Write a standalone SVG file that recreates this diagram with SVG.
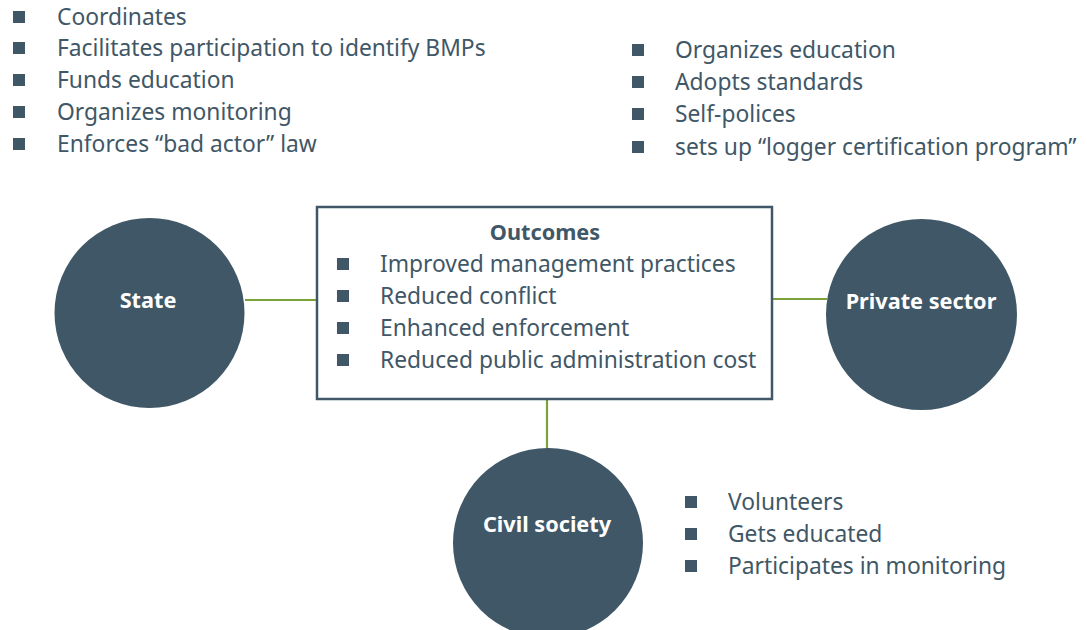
<svg xmlns="http://www.w3.org/2000/svg" width="1087" height="630" viewBox="0 0 1087 630">
  <style>
    .item { font-family: "Noto Sans", "Liberation Sans", sans-serif; font-size: 22.8px; fill: #3f5766; }
    .head { font-family: "Noto Sans", "Liberation Sans", sans-serif; font-size: 21.7px; font-weight: bold; fill: #3f5766; text-anchor: middle; }
    .label { font-family: "Noto Sans", "Liberation Sans", sans-serif; font-size: 21.7px; font-weight: bold; fill: #ffffff; text-anchor: middle; }
    .node { fill: #3f5766; }
    .bullet { fill: #3f5766; }
    .link { stroke: #7ba13a; stroke-width: 2.2; fill: none; }
  </style>
  <defs>
    <rect id="sq" width="12" height="12" class="bullet"/>
  </defs>
  <rect width="1087" height="630" fill="#ffffff"/>

  <!-- connectors -->
  <g id="connectors">
    <line class="link" x1="245" y1="300" x2="317" y2="300"/>
    <line class="link" x1="772" y1="299" x2="827" y2="299"/>
    <line class="link" x1="547" y1="400" x2="547" y2="448"/>
  </g>

  <!-- state roles -->
  <g id="state-roles">
    <use href="#sq" x="13" y="11"/><text class="item" x="57" y="25">Coordinates</text>
    <use href="#sq" x="13" y="42"/><text class="item" x="57" y="56">Facilitates participation to identify BMPs</text>
    <use href="#sq" x="13" y="74"/><text class="item" x="57" y="88">Funds education</text>
    <use href="#sq" x="13" y="106"/><text class="item" x="57" y="120">Organizes monitoring</text>
    <use href="#sq" x="13" y="138"/><text class="item" x="57" y="152">Enforces “bad actor” law</text>
  </g>

  <!-- private sector roles -->
  <g id="private-roles">
    <use href="#sq" x="632" y="44"/><text class="item" x="675" y="58">Organizes education</text>
    <use href="#sq" x="632" y="76"/><text class="item" x="675" y="90">Adopts standards</text>
    <use href="#sq" x="632" y="108"/><text class="item" x="675" y="122">Self-polices</text>
    <use href="#sq" x="632" y="141"/><text class="item" x="675" y="155">sets up “logger certification program”</text>
  </g>

  <!-- outcomes box -->
  <g id="outcomes">
    <rect x="317" y="207" width="455" height="192" fill="#ffffff" stroke="#3f5766" stroke-width="2.5"/>
    <text class="head" x="545" y="240">Outcomes</text>
    <use href="#sq" x="337" y="258"/><text class="item" x="380" y="272">Improved management practices</text>
    <use href="#sq" x="337" y="290"/><text class="item" x="380" y="304">Reduced conflict</text>
    <use href="#sq" x="337" y="322"/><text class="item" x="380" y="336">Enhanced enforcement</text>
    <use href="#sq" x="337" y="354"/><text class="item" x="380" y="368">Reduced public administration cost</text>
  </g>

  <!-- actors -->
  <g id="state">
    <circle class="node" cx="149.5" cy="313" r="95"/>
    <text class="label" x="148" y="308">State</text>
  </g>
  <g id="private-sector">
    <circle class="node" cx="921.5" cy="314.5" r="95.5"/>
    <text class="label" x="921" y="309">Private sector</text>
  </g>
  <g id="civil-society">
    <circle class="node" cx="548" cy="543" r="95"/>
    <text class="label" x="547" y="532">Civil society</text>
  </g>

  <!-- civil society roles -->
  <g id="civil-roles">
    <use href="#sq" x="685" y="496"/><text class="item" x="728" y="510">Volunteers</text>
    <use href="#sq" x="685" y="528"/><text class="item" x="728" y="542">Gets educated</text>
    <use href="#sq" x="685" y="560"/><text class="item" x="728" y="574">Participates in monitoring</text>
  </g>
</svg>
